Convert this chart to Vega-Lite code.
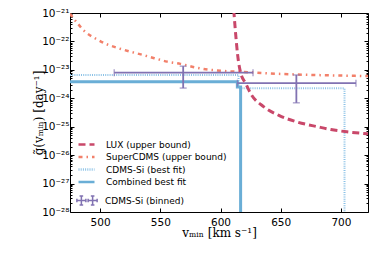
{
  "$schema": "https://vega.github.io/schema/vega-lite/v6.json",
  "width": 298,
  "height": 199,
  "autosize": {"type": "none"},
  "padding": {"left": 70, "top": 13, "right": 20, "bottom": 47},
  "background": "white",
  "config": {
    "view": {"stroke": null},
    "axis": {
      "grid": false,
      "domainColor": "black",
      "domainWidth": 1,
      "tickColor": "black",
      "labelColor": "black",
      "titleColor": "black",
      "labelFont": "DejaVu Sans",
      "labelFontSize": 10.5,
      "titleFont": "DejaVu Serif",
      "titleFontSize": 12,
      "titleFontWeight": "normal"
    },
    "legend": {
      "labelFont": "DejaVu Sans",
      "labelFontSize": 9,
      "labelColor": "black",
      "padding": 0
    }
  },
  "datasets": {
    "curves": [
      {"series": "SuperCDMS (upper bound)", "v": 475, "g": 9.33e-22, "i": 0},
      {"series": "SuperCDMS (upper bound)", "v": 480.6, "g": 4.68e-22, "i": 1},
      {"series": "SuperCDMS (upper bound)", "v": 487.5, "g": 2.19e-22, "i": 2},
      {"series": "SuperCDMS (upper bound)", "v": 495.8, "g": 1.29e-22, "i": 3},
      {"series": "SuperCDMS (upper bound)", "v": 505, "g": 8.13e-23, "i": 4},
      {"series": "SuperCDMS (upper bound)", "v": 515.3, "g": 5.75e-23, "i": 5},
      {"series": "SuperCDMS (upper bound)", "v": 525, "g": 4.37e-23, "i": 6},
      {"series": "SuperCDMS (upper bound)", "v": 536, "g": 3.31e-23, "i": 7},
      {"series": "SuperCDMS (upper bound)", "v": 545, "g": 2.57e-23, "i": 8},
      {"series": "SuperCDMS (upper bound)", "v": 555.6, "g": 1.95e-23, "i": 9},
      {"series": "SuperCDMS (upper bound)", "v": 566.7, "g": 1.62e-23, "i": 10},
      {"series": "SuperCDMS (upper bound)", "v": 576.4, "g": 1.29e-23, "i": 11},
      {"series": "SuperCDMS (upper bound)", "v": 586, "g": 1.07e-23, "i": 12},
      {"series": "SuperCDMS (upper bound)", "v": 600, "g": 9.33e-24, "i": 13},
      {"series": "SuperCDMS (upper bound)", "v": 627, "g": 8.13e-24, "i": 14},
      {"series": "SuperCDMS (upper bound)", "v": 648, "g": 7.24e-24, "i": 15},
      {"series": "SuperCDMS (upper bound)", "v": 678, "g": 6.61e-24, "i": 16},
      {"series": "SuperCDMS (upper bound)", "v": 722.5, "g": 6.03e-24, "i": 17},
      {"series": "LUX (upper bound)", "v": 611.0, "g": 1.26e-21, "i": 0},
      {"series": "LUX (upper bound)", "v": 612.5, "g": 2.0e-22, "i": 1},
      {"series": "LUX (upper bound)", "v": 614.3, "g": 3.16e-23, "i": 2},
      {"series": "LUX (upper bound)", "v": 616.7, "g": 7.94e-24, "i": 3},
      {"series": "LUX (upper bound)", "v": 620.8, "g": 3.39e-24, "i": 4},
      {"series": "LUX (upper bound)", "v": 625, "g": 1.48e-24, "i": 5},
      {"series": "LUX (upper bound)", "v": 636, "g": 5.01e-25, "i": 6},
      {"series": "LUX (upper bound)", "v": 648.5, "g": 2.51e-25, "i": 7},
      {"series": "LUX (upper bound)", "v": 664, "g": 1.45e-25, "i": 8},
      {"series": "LUX (upper bound)", "v": 680.5, "g": 1.0e-25, "i": 9},
      {"series": "LUX (upper bound)", "v": 691.7, "g": 7.94e-26, "i": 10},
      {"series": "LUX (upper bound)", "v": 705, "g": 6.61e-26, "i": 11},
      {"series": "LUX (upper bound)", "v": 722.5, "g": 5.62e-26, "i": 12},
      {"series": "CDMS-Si (best fit)", "v": 475, "g": 6.61e-24, "i": 0},
      {"series": "CDMS-Si (best fit)", "v": 615, "g": 6.61e-24, "i": 1},
      {"series": "CDMS-Si (best fit)", "v": 615, "g": 2.24e-24, "i": 2},
      {"series": "CDMS-Si (best fit)", "v": 703, "g": 2.24e-24, "i": 3},
      {"series": "CDMS-Si (best fit)", "v": 703, "g": 1e-30, "i": 4},
      {"series": "Combined best fit", "v": 475, "g": 3.8e-24, "i": 0},
      {"series": "Combined best fit", "v": 614, "g": 3.8e-24, "i": 1},
      {"series": "Combined best fit", "v": 614, "g": 2.51e-24, "i": 2},
      {"series": "Combined best fit", "v": 616.7, "g": 2.51e-24, "i": 3},
      {"series": "Combined best fit", "v": 616.7, "g": 1e-30, "i": 4}
    ],
    "bins": [
      {"lab": "CDMS-Si (binned)", "lo": 511.7, "hi": 627, "center": 569, "level": 7.94e-24, "elo": 2.29e-24, "ehi": 1.35e-23},
      {"lab": "CDMS-Si (binned)", "lo": 614, "hi": 712.5, "center": 663, "level": 3.39e-24, "elo": 6.92e-25, "ehi": 6.61e-24}
    ]
  },
  "layer": [
    {
      "data": {"name": "curves"},
      "transform": [{"filter": "datum.series === 'SuperCDMS (upper bound)'"}],
      "mark": {"type": "line", "strokeWidth": 2.5, "interpolate": "monotone", "clip": true},
      "encoding": {
        "x": {"field": "v", "type": "quantitative", "scale": {"domain": [475, 722.5], "nice": false, "zero": false},
          "axis": {"orient": "bottom", "values": [500, 550, 600, 650, 700], "tickSize": -4, "labelPadding": 9, "title": "vₘᵢₙ [km s⁻¹]", "titlePadding": 0}},
        "y": {"field": "g", "type": "quantitative", "scale": {"type": "log", "domain": [1e-28, 1e-21], "nice": false},
          "axis": {"orient": "left", "title": "g̃(vₘᵢₙ) [day⁻¹]", "titlePadding": -4, "labelPadding": 5,
            "values": [1e-28, 1e-27, 1e-26, 1e-25, 1e-24, 1e-23, 1e-22, 1e-21,
              2e-28, 3e-28, 4e-28, 5e-28, 6e-28, 7e-28, 8e-28, 9e-28,
              2e-27, 3e-27, 4e-27, 5e-27, 6e-27, 7e-27, 8e-27, 9e-27,
              2e-26, 3e-26, 4e-26, 5e-26, 6e-26, 7e-26, 8e-26, 9e-26,
              2e-25, 3e-25, 4e-25, 5e-25, 6e-25, 7e-25, 8e-25, 9e-25,
              2e-24, 3e-24, 4e-24, 5e-24, 6e-24, 7e-24, 8e-24, 9e-24,
              2e-23, 3e-23, 4e-23, 5e-23, 6e-23, 7e-23, 8e-23, 9e-23,
              2e-22, 3e-22, 4e-22, 5e-22, 6e-22, 7e-22, 8e-22, 9e-22],
            "tickSize": {"condition": {"test": "abs(log(datum.value)/LN10 - round(log(datum.value)/LN10)) < 0.001", "value": -4}, "value": -2},
            "labelExpr": "abs(log(datum.value)/LN10 - round(log(datum.value)/LN10)) < 0.001 ? ['10⁻²⁸','10⁻²⁷','10⁻²⁶','10⁻²⁵','10⁻²⁴','10⁻²³','10⁻²²','10⁻²¹'][round(log(datum.value)/LN10) + 28] : ''"}},
        "order": {"field": "i", "type": "quantitative"},
        "color": {"field": "series", "type": "nominal",
          "scale": {"domain": ["LUX (upper bound)", "SuperCDMS (upper bound)", "CDMS-Si (best fit)", "Combined best fit"],
            "range": ["#c9486a", "#f2806a", "#8cc2e6", "#6aaed6"]},
          "legend": {"orient": "none", "legendX": 11, "legendY": 126, "title": null, "symbolType": "M-2,0H2", "symbolSize": 64, "symbolStrokeWidth": 2.5, "labelOffset": 14, "rowPadding": 1.5}},
        "strokeDash": {"field": "series", "type": "nominal",
          "scale": {"domain": ["LUX (upper bound)", "SuperCDMS (upper bound)", "CDMS-Si (best fit)", "Combined best fit"],
            "range": [[7, 4], [4, 4, 1.5, 4], [1, 1.2], [1, 0]]},
          "legend": {"orient": "none", "legendX": 11, "legendY": 126, "title": null, "symbolType": "M-2,0H2", "symbolSize": 64, "symbolStrokeWidth": 2.5, "labelOffset": 14, "rowPadding": 1.5}}
      }
    },
    {
      "data": {"name": "curves"},
      "transform": [{"filter": "datum.series === 'CDMS-Si (best fit)'"}],
      "mark": {"type": "line", "strokeWidth": 2, "clip": true},
      "encoding": {
        "x": {"field": "v", "type": "quantitative", "axis": null},
        "y": {"field": "g", "type": "quantitative", "axis": null},
        "order": {"field": "i", "type": "quantitative"},
        "color": {"field": "series", "type": "nominal"},
        "strokeDash": {"field": "series", "type": "nominal"}
      }
    },
    {
      "data": {"name": "curves"},
      "transform": [{"filter": "datum.series === 'Combined best fit'"}],
      "mark": {"type": "line", "strokeWidth": 3, "clip": true},
      "encoding": {
        "x": {"field": "v", "type": "quantitative", "axis": null},
        "y": {"field": "g", "type": "quantitative", "axis": null},
        "order": {"field": "i", "type": "quantitative"},
        "color": {"field": "series", "type": "nominal"},
        "strokeDash": {"field": "series", "type": "nominal"}
      }
    },
    {
      "data": {"name": "bins"},
      "mark": {"type": "rule", "color": "#8172b2", "strokeWidth": 1.8, "clip": true},
      "encoding": {
        "x": {"field": "lo", "type": "quantitative", "axis": null},
        "x2": {"field": "hi"},
        "y": {"field": "level", "type": "quantitative", "axis": null}
      }
    },
    {
      "data": {"name": "bins"},
      "mark": {"type": "rule", "color": "#8172b2", "strokeWidth": 1.8, "clip": true},
      "encoding": {
        "x": {"field": "center", "type": "quantitative", "axis": null},
        "y": {"field": "elo", "type": "quantitative", "axis": null},
        "y2": {"field": "ehi"}
      }
    },
    {
      "data": {"name": "bins"},
      "mark": {"type": "tick", "orient": "vertical", "size": 7, "thickness": 1.3, "color": "#8172b2", "clip": true},
      "encoding": {
        "x": {"field": "lo", "type": "quantitative", "axis": null},
        "y": {"field": "level", "type": "quantitative", "axis": null}
      }
    },
    {
      "data": {"name": "bins"},
      "mark": {"type": "tick", "orient": "vertical", "size": 7, "thickness": 1.3, "color": "#8172b2", "clip": true},
      "encoding": {
        "x": {"field": "hi", "type": "quantitative", "axis": null},
        "y": {"field": "level", "type": "quantitative", "axis": null}
      }
    },
    {
      "data": {"name": "bins"},
      "mark": {"type": "tick", "orient": "horizontal", "size": 7, "thickness": 1.3, "color": "#8172b2", "clip": true},
      "encoding": {
        "x": {"field": "center", "type": "quantitative", "axis": null},
        "y": {"field": "elo", "type": "quantitative", "axis": null}
      }
    },
    {
      "data": {"name": "bins"},
      "mark": {"type": "tick", "orient": "horizontal", "size": 7, "thickness": 1.3, "color": "#8172b2", "clip": true},
      "encoding": {
        "x": {"field": "center", "type": "quantitative", "axis": null},
        "y": {"field": "ehi", "type": "quantitative", "axis": null}
      }
    },
    {
      "data": {"name": "bins"},
      "mark": {"type": "point", "filled": false, "opacity": 0, "color": "#8172b2", "strokeWidth": 1.5},
      "encoding": {
        "x": {"field": "center", "type": "quantitative", "axis": null},
        "y": {"field": "level", "type": "quantitative", "axis": null},
        "shape": {"field": "lab", "type": "nominal",
          "scale": {"range": ["M-2.25,0H-0.25M-1.25,-1V1M-2.25,-0.4V0.4M-0.25,-0.4V0.4M-1.65,-1H-0.85M-1.65,1H-0.85M0.25,0H2.25M1.25,-1V1M0.25,-0.4V0.4M2.25,-0.4V0.4M0.85,-1H1.65M0.85,1H1.65"]},
          "legend": {"orient": "none", "legendX": 11.5, "legendY": 182, "title": null, "symbolSize": 81, "symbolStrokeWidth": 1.5, "symbolStrokeColor": "#8172b2", "symbolOpacity": 1, "labelOffset": 12.5}}
      }
    },
    {
      "data": {"name": "curves"},
      "transform": [{"filter": "datum.series === 'LUX (upper bound)'"}],
      "mark": {"type": "line", "strokeWidth": 3, "interpolate": "monotone", "clip": true},
      "encoding": {
        "x": {"field": "v", "type": "quantitative",
          "axis": {"orient": "top", "values": [500, 550, 600, 650, 700], "tickSize": -4, "labels": false, "title": null}},
        "y": {"field": "g", "type": "quantitative",
          "axis": {"orient": "right", "labels": false, "title": null,
            "values": [1e-28, 1e-27, 1e-26, 1e-25, 1e-24, 1e-23, 1e-22, 1e-21,
              2e-28, 3e-28, 4e-28, 5e-28, 6e-28, 7e-28, 8e-28, 9e-28,
              2e-27, 3e-27, 4e-27, 5e-27, 6e-27, 7e-27, 8e-27, 9e-27,
              2e-26, 3e-26, 4e-26, 5e-26, 6e-26, 7e-26, 8e-26, 9e-26,
              2e-25, 3e-25, 4e-25, 5e-25, 6e-25, 7e-25, 8e-25, 9e-25,
              2e-24, 3e-24, 4e-24, 5e-24, 6e-24, 7e-24, 8e-24, 9e-24,
              2e-23, 3e-23, 4e-23, 5e-23, 6e-23, 7e-23, 8e-23, 9e-23,
              2e-22, 3e-22, 4e-22, 5e-22, 6e-22, 7e-22, 8e-22, 9e-22],
            "tickSize": {"condition": {"test": "abs(log(datum.value)/LN10 - round(log(datum.value)/LN10)) < 0.001", "value": -4}, "value": -2}}},
        "order": {"field": "i", "type": "quantitative"},
        "color": {"field": "series", "type": "nominal"},
        "strokeDash": {"field": "series", "type": "nominal"}
      }
    }
  ]
}
